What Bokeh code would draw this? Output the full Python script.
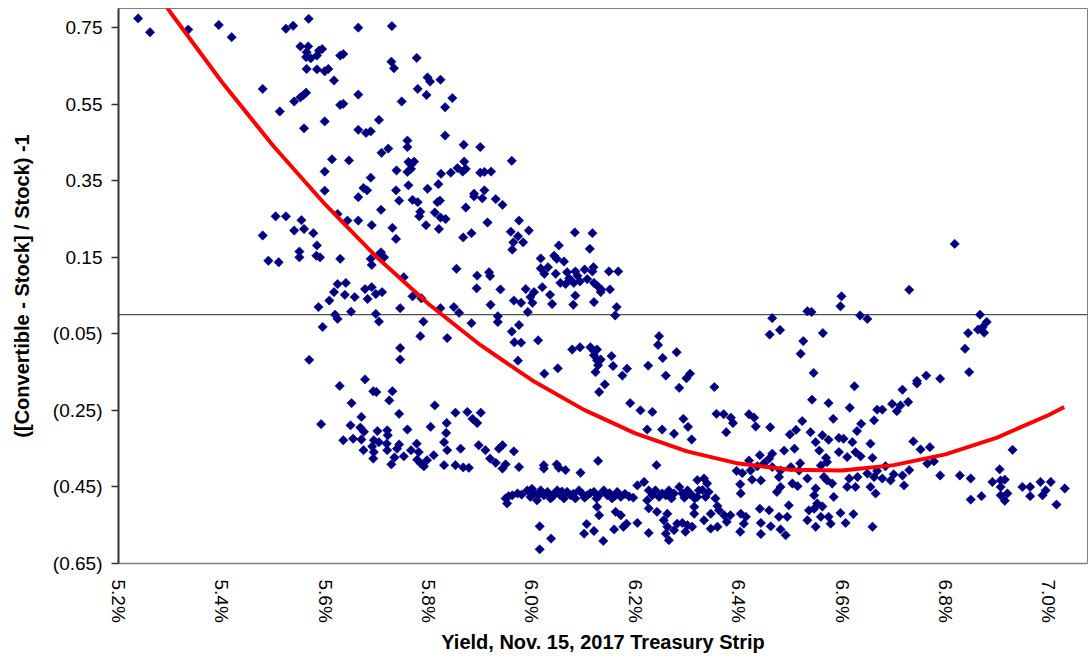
import math
from bokeh.plotting import figure
from bokeh.models import Range1d, FixedTicker, CustomJSTickFormatter, Span, ColumnDataSource
from bokeh.embed import file_html
from bokeh.resources import INLINE

# ---------------- data (yield %, premium) ----------------
pts_top = [(5.238,0.774),(5.261,0.738),(5.335,0.745),(5.394,0.757),(5.419,0.725),(5.524,0.747),(5.538,0.755),(5.568,0.773),(5.664,0.750),(5.729,0.754),
(5.552,0.701),(5.567,0.701),(5.564,0.686),(5.563,0.673),(5.572,0.670),(5.584,0.677),(5.588,0.690),(5.594,0.694),(5.629,0.677),(5.635,0.681),
(5.564,0.642),(5.584,0.641),(5.599,0.636),(5.606,0.642),(5.617,0.612),(5.728,0.661),(5.733,0.644),(5.777,0.671),(5.798,0.620),(5.803,0.609),
(5.823,0.614),(5.779,0.590),(5.796,0.574),(5.846,0.566),(5.832,0.542),(5.748,0.557),(5.664,0.575),(5.629,0.548),(5.635,0.551),(5.479,0.590),
(5.540,0.557),(5.552,0.568),(5.558,0.574),(5.563,0.580),(5.512,0.531),(5.559,0.487),(5.599,0.505),(5.704,0.509),(5.664,0.483),(5.679,0.475),
(5.688,0.479),(5.832,0.468),(5.759,0.455),(5.759,0.438),(5.722,0.434),(5.709,0.423),(5.868,0.444),(5.900,0.438),(5.961,0.402),(5.613,0.406),
(5.646,0.403),(5.599,0.374),(5.688,0.358),(5.674,0.331),(5.681,0.325),(5.599,0.324),(5.761,0.399),(5.766,0.392),(5.772,0.400),(5.759,0.373),
(5.766,0.381),(5.738,0.377),(5.761,0.338),(5.737,0.325),(5.824,0.368),(5.819,0.341),(5.798,0.329),(5.843,0.371),(5.856,0.383),(5.869,0.400),
(5.872,0.381),(5.866,0.374),(5.900,0.371),(5.908,0.373),(5.921,0.374),(5.908,0.325),(5.888,0.316)]

pts_mid_left = [(5.664,0.307),(5.743,0.298),(5.769,0.300),(5.779,0.294),(5.708,0.274),(5.784,0.269),(5.782,0.257),(5.795,0.234),(5.624,0.263),(5.643,0.246),
(5.664,0.246),(5.690,0.234),(5.730,0.227),(5.737,0.198),(5.504,0.257),(5.524,0.257),(5.554,0.247),(5.540,0.220),(5.559,0.224),(5.577,0.213),
(5.479,0.207),(5.584,0.181),(5.550,0.165),(5.550,0.150),(5.583,0.154),(5.590,0.150),(5.490,0.141),(5.510,0.137),(5.629,0.146),(5.688,0.146),
(5.690,0.130),(5.708,0.163),(5.714,0.150),(5.703,0.156),(5.752,0.098),(5.624,0.080),(5.640,0.083),(5.617,0.059),(5.638,0.052),(5.657,0.046),
(5.677,0.067),(5.690,0.072),(5.698,0.054),(5.710,0.059),(5.682,0.041),(5.608,0.037),(5.587,0.020),(5.650,0.008),(5.619,0.000),(5.624,-0.011),
(5.698,0.002),(5.704,-0.018),(5.745,0.017),(5.769,0.048),(5.786,0.043),(5.790,-0.018),(5.784,-0.056),(5.595,-0.032),(5.745,-0.087),(5.745,-0.117),
(5.569,-0.118),(5.677,-0.169)]

pts_mid_center = [(5.817,0.294),(5.822,0.298),(5.812,0.267),(5.823,0.254),(5.833,0.250),(5.820,0.224),(5.872,0.280),(5.888,0.309),(5.904,0.304),(5.930,0.302),
(5.943,0.287),(5.914,0.241),(5.975,0.246),(5.959,0.217),(5.994,0.220),(5.973,0.205),(5.983,0.189),(5.964,0.189),(5.962,0.170),(5.867,0.202),
(5.883,0.213),(6.083,0.215),(6.117,0.213),(6.052,0.181),(6.112,0.172),(6.017,0.147),(6.043,0.154),(6.048,0.146),(6.062,0.139),(6.017,0.121),
(6.031,0.124),(6.024,0.107),(6.046,0.107),(6.068,0.111),(6.084,0.113),(6.102,0.118),(6.119,0.124),(6.117,0.113),(6.072,0.095),(6.088,0.102),
(6.055,0.083),(6.065,0.080),(6.081,0.083),(6.093,0.087),(6.107,0.093),(6.120,0.083),(6.126,0.076),(6.134,0.066),(6.133,0.059),(6.151,0.066),
(6.149,0.113),(6.167,0.113),(5.854,0.120),(5.894,0.102),(5.917,0.111),(5.919,0.101),(5.893,0.069),(5.939,0.066),(5.988,0.067),(6.020,0.072),
(6.004,0.059),(5.997,0.046),(6.001,0.031),(5.965,0.037),(5.979,0.031),(5.992,0.007),(5.920,0.026),(6.035,0.052),(6.039,0.028),(6.084,0.050),
(6.080,0.026),(6.120,0.033),(6.164,0.020),(6.161,-0.002),(5.823,0.017),(5.849,0.020),(5.859,0.005),(5.883,-0.022),(5.934,-0.004),(5.934,-0.019),
(5.975,-0.027),(5.961,-0.044),(5.836,-0.061),(5.966,-0.072),(5.979,-0.073),(6.012,-0.067),(5.973,-0.120),(6.024,-0.154),(6.050,-0.140),(6.078,-0.091),
(6.093,-0.085),(6.113,-0.085),(6.121,-0.096),(6.126,-0.091),(6.120,-0.106),(6.126,-0.119),(6.133,-0.117),(6.128,-0.132),(6.123,-0.150),(6.154,-0.108),
(6.157,-0.134),(6.175,-0.159),(6.184,-0.141),(6.225,-0.133),(6.246,-0.056),(6.244,-0.079),(6.253,-0.113),(6.280,-0.098),(6.259,-0.159),(6.306,-0.154),
(6.299,-0.166)]

pts_mid_right = [(6.818,0.185),(6.730,0.065),(6.465,-0.009),(6.480,-0.040),(6.460,-0.052),(6.533,0.009),(6.541,0.007),(6.525,-0.069),(6.520,-0.102),(6.563,-0.048),
(6.545,-0.152),(6.599,0.048),(6.597,0.022),(6.635,-0.002),(6.649,-0.011),(6.867,0.000),(6.880,-0.019),(6.863,-0.039),(6.875,-0.047),(6.872,-0.033),
(6.844,-0.048),(6.838,-0.089),(6.846,-0.150),(6.763,-0.159),(6.790,-0.167),(6.745,-0.173)]

pts_low_left = [(5.628,-0.186),(5.693,-0.200),(5.699,-0.202),(5.730,-0.200),(5.724,-0.224),(5.651,-0.231),(5.670,-0.267),(5.743,-0.259),(5.592,-0.286),(5.649,-0.289),
(5.668,-0.295),(5.675,-0.306),(5.701,-0.304),(5.720,-0.302),(5.721,-0.315),(5.635,-0.328),(5.654,-0.324),(5.670,-0.326),(5.694,-0.328),(5.704,-0.333),
(5.719,-0.337),(5.691,-0.344),(5.694,-0.359),(5.674,-0.354),(5.693,-0.376),(5.720,-0.354),(5.743,-0.339),(5.739,-0.350),(5.734,-0.373),(5.728,-0.391),
(5.752,-0.370),(5.759,-0.300),(5.812,-0.237),(5.804,-0.293),(5.766,-0.354),(5.777,-0.337),(5.781,-0.359),(5.778,-0.379),(5.785,-0.389),(5.791,-0.396),
(5.797,-0.380),(5.810,-0.367),(5.835,-0.283),(5.834,-0.309),(5.830,-0.333),(5.836,-0.354),(5.830,-0.393),(5.862,-0.350),(5.852,-0.256),(5.875,-0.254),
(5.901,-0.256),(5.885,-0.272),(5.894,-0.283),(5.852,-0.393),(5.867,-0.399),(5.878,-0.400),(5.897,-0.341),(5.910,-0.354),(5.919,-0.376),(5.930,-0.387),
(5.936,-0.350)]

pts_low_center = [(6.130,-0.202),(6.141,-0.182),(6.190,-0.231),(6.210,-0.250),(6.233,-0.254),(6.223,-0.300),(6.252,-0.300),(6.275,-0.311),(6.293,-0.272),(6.302,-0.293),
(6.309,-0.326),(6.285,-0.191),(5.943,-0.341),(5.965,-0.357),(5.949,-0.391),(5.943,-0.402),(5.975,-0.398),(6.023,-0.393),(6.023,-0.402),(6.048,-0.391),
(6.052,-0.400),(6.065,-0.406),(6.094,-0.413),(6.128,-0.382),(6.241,-0.393)]

pts_band = [(5.949,-0.480),(5.955,-0.474),(5.962,-0.472),(5.972,-0.467),(5.952,-0.493),(5.991,-0.459),(5.997,-0.476),(6.004,-0.467),(6.010,-0.485),(6.017,-0.459),
(6.023,-0.472),(6.030,-0.463),(6.036,-0.480),(6.043,-0.467),(6.049,-0.459),(6.055,-0.472),(6.062,-0.480),(6.068,-0.463),(6.075,-0.472),(6.084,-0.480),
(6.091,-0.459),(6.097,-0.467),(6.107,-0.472),(6.120,-0.463),(6.130,-0.472),(6.139,-0.459),(6.146,-0.472),(6.155,-0.480),(6.165,-0.463),(6.172,-0.476),
(6.196,-0.478),(6.204,-0.446),(6.217,-0.437),(6.226,-0.459),(6.233,-0.472),(6.239,-0.459),(6.246,-0.476),(6.252,-0.467),(6.259,-0.472),(6.265,-0.459),
(6.275,-0.467),(6.285,-0.450),(6.291,-0.467),(6.301,-0.459),(6.310,-0.472),(6.320,-0.432),(6.323,-0.459),
(5.980,-0.470),(6.000,-0.455),(6.013,-0.470),(6.040,-0.475),(6.058,-0.462),(6.080,-0.468),(6.102,-0.478),(6.113,-0.466),(6.125,-0.480),(6.150,-0.466),
(6.160,-0.474),(6.180,-0.468),(6.188,-0.475),(6.270,-0.480),(6.295,-0.478),(6.305,-0.468),(6.315,-0.480)]

pts_band_below = [(6.223,-0.485),(6.226,-0.506),(6.242,-0.515),(6.262,-0.520),(6.255,-0.537),(6.262,-0.554),(6.275,-0.563),(6.281,-0.546),(6.291,-0.544),(6.301,-0.550),
(6.310,-0.554),(6.314,-0.520),(6.297,-0.567),(6.259,-0.572),(6.265,-0.589),(6.126,-0.502),(6.130,-0.524),(6.162,-0.515),(6.172,-0.524),(6.183,-0.546),
(6.204,-0.544),(6.177,-0.554),(6.159,-0.561),(6.106,-0.547),(6.101,-0.572),(6.120,-0.565),(6.138,-0.591),(6.015,-0.553),(6.037,-0.585),(6.015,-0.613),
(6.226,-0.570),(6.320,-0.476),(6.314,-0.502)]

pts_low_right = [(6.353,-0.189),(6.624,-0.187),(6.542,-0.222),(6.574,-0.231),(6.615,-0.243),(6.668,-0.248),(6.357,-0.259),(6.371,-0.260),(6.385,-0.269),(6.389,-0.283),
(6.376,-0.307),(6.420,-0.260),(6.430,-0.269),(6.433,-0.292),(6.461,-0.294),(6.523,-0.278),(6.499,-0.313),(6.511,-0.301),(6.539,-0.307),(6.583,-0.272),
(6.637,-0.285),(6.662,-0.276),(6.629,-0.304),(6.562,-0.315),(6.574,-0.327),(6.549,-0.333),(6.556,-0.355),(6.594,-0.322),(6.603,-0.324),(6.620,-0.333),
(6.655,-0.337),(6.594,-0.359),(6.610,-0.372),(6.626,-0.359),(6.636,-0.370),(6.659,-0.374),(6.488,-0.355),(6.508,-0.350),(6.465,-0.363),(6.441,-0.367),
(6.459,-0.376),(6.420,-0.381),(6.449,-0.388),(6.519,-0.388),(6.569,-0.374),(6.571,-0.385),(6.559,-0.394),(6.396,-0.408),(6.407,-0.414),(6.423,-0.407),
(6.436,-0.396),(6.465,-0.398),(6.481,-0.407),(6.478,-0.424),(6.501,-0.398),(6.517,-0.407),(6.533,-0.428),(6.426,-0.431),(6.443,-0.433),(6.403,-0.443),
(6.481,-0.450),(6.504,-0.441),(6.514,-0.448),(6.474,-0.463),(6.549,-0.454),(6.571,-0.433),(6.581,-0.441),(6.565,-0.424),(6.614,-0.428),(6.630,-0.424),
(6.649,-0.415),(6.662,-0.424),(6.668,-0.408),(6.610,-0.450),(6.626,-0.450),(6.655,-0.450),(6.665,-0.467),(6.333,-0.428),(6.339,-0.441),(6.330,-0.458),
(6.342,-0.463),(6.336,-0.476),(6.404,-0.467),(6.355,-0.480),(6.359,-0.500),(6.362,-0.511),(6.346,-0.520),(6.333,-0.537),(6.372,-0.524),(6.377,-0.541),
(6.359,-0.554),(6.346,-0.559),(6.404,-0.520),(6.414,-0.528),(6.410,-0.546),(6.403,-0.567),(6.441,-0.507),(6.459,-0.511),(6.443,-0.544),(6.443,-0.573),
(6.462,-0.553),(6.478,-0.528),(6.494,-0.528),(6.481,-0.561),(6.491,-0.576),(6.497,-0.498),(6.546,-0.472),(6.552,-0.493),(6.546,-0.507),(6.536,-0.511),
(6.533,-0.537),(6.562,-0.501),(6.559,-0.528),(6.574,-0.528),(6.549,-0.554),(6.584,-0.476),(6.597,-0.518),(6.622,-0.521),(6.607,-0.544),(6.659,-0.554),
(6.578,-0.546),(6.384,-0.524)]

pts_far_right = [(6.745,-0.180),(6.717,-0.196),(6.697,-0.233),(6.713,-0.237),(6.728,-0.228),(6.706,-0.252),(6.678,-0.248),(6.738,-0.331),(6.752,-0.352),(6.770,-0.346),
(6.930,-0.353),(6.684,-0.396),(6.765,-0.389),(6.778,-0.383),(6.730,-0.406),(6.717,-0.420),(6.700,-0.417),(6.694,-0.433),(6.678,-0.428),(6.720,-0.446),
(6.790,-0.420),(6.828,-0.420),(6.849,-0.428),(6.905,-0.404),(6.891,-0.437),(6.907,-0.433),(6.915,-0.431),(6.907,-0.450),(6.920,-0.467),(6.907,-0.472),
(6.915,-0.486),(6.849,-0.483),(6.870,-0.474),(6.949,-0.450),(6.964,-0.450),(6.964,-0.474),(6.984,-0.437),(7.004,-0.437),(6.994,-0.459),(6.988,-0.472),
(7.031,-0.454),(7.015,-0.496)]

# polynomial trendline, points
trend_x = [5.25, 5.30, 5.40, 5.50, 5.60, 5.70, 5.80, 5.90, 6.00, 6.10, 6.20, 6.30, 6.40, 6.50, 6.60, 6.70, 6.80, 6.90, 7.00, 7.03]
trend_y = [0.888, 0.791, 0.608, 0.440, 0.288, 0.150, 0.028, -0.079, -0.171, -0.248, -0.310, -0.357, -0.389, -0.405, -0.407, -0.393, -0.365, -0.321, -0.262, -0.241]

x_ticks = [5.2, 5.4, 5.6, 5.8, 6.0, 6.2, 6.4, 6.6, 6.8, 7.0]
x_tick_labels = ["5.2%", "5.4%", "5.6%", "5.8%", "6.0%", "6.2%", "6.4%", "6.6%", "6.8%", "7.0%"]
y_ticks = [-0.65, -0.45, -0.25, -0.05, 0.15, 0.35, 0.55, 0.75]
y_tick_labels = ["(0.65)", "(0.45)", "(0.25)", "(0.05)", "0.15", "0.35", "0.55", "0.75"]

x_title = "Yield, Nov. 15, 2017 Treasury Strip"
y_title = "([Convertible - Stock] / Stock) -1"

# ---------------------------------------------------------------------------
all_pts = (pts_top + pts_mid_left + pts_mid_center + pts_mid_right + pts_low_left +
           pts_low_center + pts_band + pts_band_below + pts_low_right + pts_far_right)
src = ColumnDataSource(data=dict(x=[a for a, b in all_pts], y=[b for a, b in all_pts]))

FONT = "Liberation Sans"
p = figure(width=1091, height=656, output_backend="svg", toolbar_location=None,
           x_range=Range1d(5.2, 7.075), y_range=Range1d(-0.65, 0.80),
           min_border_left=118, min_border_right=4, min_border_top=8, min_border_bottom=93)
p.grid.visible = False
p.outline_line_color = "#808080"
p.outline_line_width = 1
p.background_fill_color = "white"
p.border_fill_color = "white"

p.add_layout(Span(location=0, dimension="width", line_color="#505050", line_width=1.2, level="underlay"))

p.scatter("x", "y", source=src, marker="square", angle=math.pi / 4, size=6.6,
          fill_color="#000080", line_color="#000080", line_width=0.6)

p.line(trend_x, trend_y, line_color="#FF0000", line_width=4)

fmt_code = """
let best = 0, d = 1e9;
for (let i = 0; i < tks.length; i++) {
  const e = Math.abs(tks[i] - tick);
  if (e < d) { d = e; best = i; }
}
return lbls[best];
"""

xa = p.xaxis[0]
xa.ticker = FixedTicker(ticks=x_ticks, minor_ticks=[])
xa.formatter = CustomJSTickFormatter(args=dict(tks=x_ticks, lbls=x_tick_labels), code=fmt_code)
xa.major_label_orientation = "vertical"
xa.major_tick_out = 0
xa.major_tick_in = 0
xa.minor_tick_out = 0
xa.minor_tick_in = 0
xa.axis_line_color = "#808080"
xa.axis_line_width = 1.5
xa.major_label_standoff = 16
xa.major_label_text_font = FONT
xa.major_label_text_font_size = "19px"
xa.major_label_text_color = "black"
xa.axis_label = x_title
xa.axis_label_text_font = FONT
xa.axis_label_text_font_size = "20px"
xa.axis_label_text_font_style = "bold"
xa.axis_label_text_color = "black"
xa.axis_label_standoff = 5

ya = p.yaxis[0]
ya.ticker = FixedTicker(ticks=y_ticks, minor_ticks=[])
ya.formatter = CustomJSTickFormatter(args=dict(tks=y_ticks, lbls=y_tick_labels), code=fmt_code)
ya.major_tick_out = 7
ya.major_tick_in = 0
ya.minor_tick_out = 0
ya.minor_tick_in = 0
ya.major_tick_line_color = "#333333"
ya.major_tick_line_width = 1.5
ya.axis_line_color = "#333333"
ya.axis_line_width = 2
ya.major_label_standoff = 9
ya.major_label_text_font = FONT
ya.major_label_text_font_size = "19px"
ya.major_label_text_color = "black"
ya.axis_label = y_title
ya.axis_label_text_font = FONT
ya.axis_label_text_font_size = "20px"
ya.axis_label_text_font_style = "bold"
ya.axis_label_text_color = "black"
ya.axis_label_standoff = 17

open("out.html", "w").write(file_html(p, INLINE))
